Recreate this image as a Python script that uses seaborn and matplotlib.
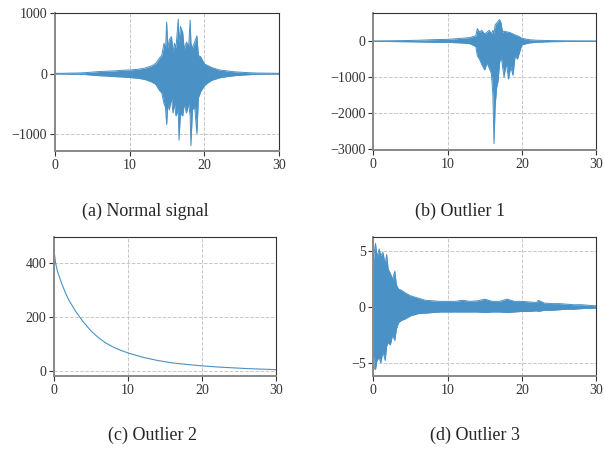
import matplotlib
matplotlib.use("Agg")
import matplotlib.pyplot as plt
import seaborn as sns

# (a) Normal signal - envelope of the trace
t_a = [0, 1, 2, 3, 4, 5, 6, 7, 8, 9, 10, 11, 12, 13, 13.5, 14, 14.3, 14.6, 14.8, 14.95,
       15.1, 15.3, 15.6, 15.8, 16.0, 16.2, 16.5, 16.6, 16.8, 17.1, 17.3, 17.6, 17.9, 18.1,
       18.2, 18.4, 18.7, 19.0, 19.2, 19.5, 20, 20.5, 21, 22, 23, 24, 25, 26, 27, 28, 29, 30]
upper_a = [5, 5, 8, 10, 15, 25, 35, 40, 45, 55, 60, 70, 90, 130, 170, 260, 300, 500, 400, 850,
           420, 560, 610, 350, 500, 420, 900, 500, 780, 680, 400, 520, 450, 885,
           500, 420, 520, 625, 300, 280, 160, 130, 100, 60, 45, 30, 22, 15, 10, 8, 6, 5]
lower_a = [-5, -5, -8, -10, -15, -25, -35, -40, -50, -55, -65, -75, -95, -140, -180, -280, -320, -500, -560, -840,
           -500, -600, -400, -650, -500, -700, -600, -1100, -650, -700, -500, -650, -500, -700,
           -1190, -600, -550, -990, -400, -300, -200, -150, -110, -70, -50, -35, -25, -18, -12, -8, -6, -5]

# (b) Outlier 1
t_b = [0, 2, 4, 6, 8, 10, 12, 13, 13.8, 14.0, 14.3, 14.6, 15.0, 15.3, 15.6, 15.9, 16.1, 16.25,
       16.4, 16.6, 16.8, 17.0, 17.2, 17.4, 17.6, 17.9, 18.2, 18.5, 18.8, 19.1, 19.4, 19.7,
       20, 21, 22, 24, 26, 28, 30]
upper_b = [5, 10, 15, 25, 40, 50, 80, 100, 150, 350, 250, 300, 200, 250, 300, 200, 300, 200,
           450, 500, 550, 600, 500, 250, 280, 260, 250, 230, 200, 170, 150, 120,
           80, 40, 25, 15, 10, 8, 5]
lower_b = [-5, -10, -15, -20, -30, -35, -50, -70, -150, -400, -500, -650, -800, -600, -750, -900, -1500, -2850,
           -1800, -1300, -1100, -600, -400, -700, -1000, -600, -1050, -700, -950, -400, -500, -300,
           -100, -50, -30, -15, -10, -8, -5]

# (c) Outlier 2
t_c = [0, 0.25, 0.5, 1, 1.5, 2, 3, 4, 5, 6, 7, 8, 9, 10, 12, 14, 16, 18, 20, 22, 24, 26, 28, 30]
y_c = [455, 400, 370, 330, 295, 265, 220, 182, 150, 125, 105, 90, 78, 68, 52, 40, 31, 25, 20, 16, 13, 10, 8, 6]

# (d) Outlier 3
t_d = [0, 0.15, 0.3, 0.5, 0.8, 1.0, 1.3, 1.6, 1.8, 2.0, 2.3, 2.6, 2.9, 3.1, 3.4, 3.8, 4.2, 5, 6, 7,
       8, 9, 10, 11, 12, 13, 14, 15, 16, 17, 18, 19, 20, 21, 22, 22.2, 23, 24, 25, 26, 27, 28, 29, 30]
upper_d = [4.0, 5.0, 5.7, 4.5, 5.2, 4.6, 4.9, 3.8, 4.7, 3.4, 3.0, 2.5, 3.2, 2.0, 1.6, 1.5, 1.3, 1.0, 0.8, 0.6,
           0.55, 0.5, 0.5, 0.5, 0.6, 0.5, 0.55, 0.7, 0.5, 0.5, 0.7, 0.5, 0.5, 0.45, 0.4, 0.6, 0.35, 0.3, 0.3, 0.25,
           0.2, 0.2, 0.15, 0.1]
lower_d = [-4.0, -5.5, -5.6, -4.8, -4.5, -5.0, -4.0, -4.8, -3.5, -3.2, -3.4, -2.5, -3.0, -2.0, -1.4, -1.2, -1.1, -0.8, -0.6, -0.55,
           -0.5, -0.45, -0.45, -0.45, -0.45, -0.45, -0.45, -0.5, -0.45, -0.45, -0.5, -0.45, -0.4, -0.4, -0.35, -0.4, -0.3, -0.3, -0.25, -0.2,
           -0.2, -0.15, -0.12, -0.1]

captions = ["(a) Normal signal", "(b) Outlier 1", "(c) Outlier 2", "(d) Outlier 3"]

sns.set_theme(style="whitegrid", rc={
    "grid.linestyle": "--", "grid.color": "#c8c8c8", "grid.linewidth": 0.7,
    "axes.edgecolor": "#333333", "axes.linewidth": 0.8,
    "xtick.bottom": True, "ytick.left": True,
    "xtick.major.size": 3.5, "ytick.major.size": 3.5,
    "xtick.major.width": 0.8, "ytick.major.width": 0.8,
    "xtick.color": "#333333", "ytick.color": "#333333",
    "xtick.labelsize": 10, "ytick.labelsize": 10,
})
plt.rcParams["font.family"] = ["Liberation Serif", "DejaVu Serif"]

blue = "#4a91c6"
fig = plt.figure(figsize=(6.04, 4.51), dpi=100)
ax_a = fig.add_axes([0.091, 0.665, 0.371, 0.306])
ax_b = fig.add_axes([0.618, 0.667, 0.369, 0.304])
ax_c = fig.add_axes([0.089, 0.166, 0.368, 0.308])
ax_d = fig.add_axes([0.618, 0.166, 0.369, 0.308])


def draw_band(ax, t, lo, hi):
    ax.fill_between(t, lo, hi, color=blue, lw=0)
    sns.lineplot(x=t, y=hi, ax=ax, color=blue, lw=0.7, estimator=None)
    sns.lineplot(x=t, y=lo, ax=ax, color=blue, lw=0.7, estimator=None)


draw_band(ax_a, t_a, lower_a, upper_a)
draw_band(ax_b, t_b, lower_b, upper_b)
sns.lineplot(x=t_c, y=y_c, ax=ax_c, color=blue, lw=0.8, estimator=None)
draw_band(ax_d, t_d, lower_d, upper_d)

ax_a.set_ylim(-1280, 1000)
ax_a.set_yticks([-1000, 0, 1000])
ax_b.set_ylim(-3030, 780)
ax_b.set_yticks([-3000, -2000, -1000, 0])
ax_c.set_ylim(-18, 496)
ax_c.set_yticks([0, 200, 400])
ax_d.set_ylim(-6.2, 6.25)
ax_d.set_yticks([-5, 0, 5])

for ax in [ax_a, ax_b, ax_c, ax_d]:
    ax.set_xlim(0, 30)
    ax.set_xticks([0, 10, 20, 30])
    ax.set_xlabel("")
    ax.set_ylabel("")
    ax.tick_params(pad=2)
    for side in ["left", "bottom"]:
        ax.spines[side].set_color("#888888")
        ax.spines[side].set_linewidth(1.4)

fig.text(0.240, 0.532, captions[0], ha="center", va="center", fontsize=13)
fig.text(0.762, 0.532, captions[1], ha="center", va="center", fontsize=13)
fig.text(0.252, 0.035, captions[2], ha="center", va="center", fontsize=13)
fig.text(0.786, 0.035, captions[3], ha="center", va="center", fontsize=13)

fig.savefig("out.png", dpi=100)
